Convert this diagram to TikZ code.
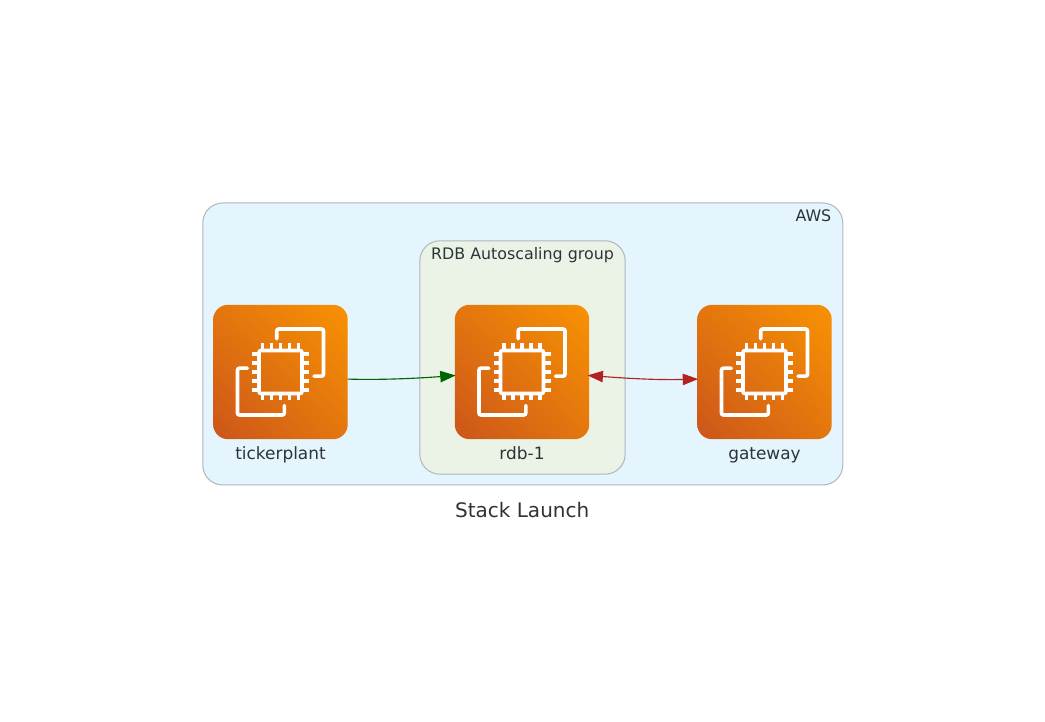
\documentclass[tikz,border=0pt]{standalone}
\usepackage{fontspec}
\setmainfont{DejaVu Sans}
\usetikzlibrary{arrows.meta, positioning, shadings}
\definecolor{awsfill}{HTML}{E5F5FD}
\definecolor{groupfill}{HTML}{EBF3E7}
\definecolor{clusterline}{HTML}{AEB6BE}
\definecolor{labeltext}{HTML}{2D3436}
\definecolor{ec2dark}{HTML}{CB551A}
\definecolor{ec2mid}{HTML}{E4760E}
\definecolor{ec2light}{HTML}{F89202}
\definecolor{firebrick}{HTML}{B22222}
\definecolor{darkgreen}{HTML}{006400}
\tikzset{
	cluster/.style = {rectangle, rounded corners=15pt, draw=clusterline, line width=0.75pt, inner sep=0pt},
	ec2box/.style = {rectangle, rounded corners=11pt, minimum width=100.8pt, minimum height=100.8pt, inner sep=0pt, lower left=ec2dark, upper right=ec2light, upper left=ec2mid, lower right=ec2mid},
	iconlabel/.style = {text=labeltext, font=\fontsize{12.7}{15}\selectfont, text height=9.6pt, text depth=2.8pt},
	clusterlabel/.style = {text=labeltext, font=\fontsize{11.9}{14}\selectfont},
	link/.style = {line width=0.85pt, shorten >=-0.8pt, -{Triangle[length=11.5pt,width=8.5pt]}},
	duallink/.style = {line width=0.85pt, shorten >=-0.8pt, shorten <=-1.4pt, {Triangle[length=11.5pt,width=8.5pt]}-{Triangle[length=11.5pt,width=8.5pt]}},
	chipicon/.pic = {
		\draw [white, line width=2.7pt, line cap=round, rounded corners=1.5pt]
			(-21.5,-21.5) rectangle (21.5,21.5)
			(-3.8,33.2) -- (-3.8,43) -- (43,43) -- (43,-4.2) -- (33.5,-4.2)
			(-33.2,3.8) -- (-43,3.8) -- (-43,-43) -- (3.8,-43) -- (3.8,-33.5);
		\foreach \p in {-18,-9,0,9,18} {
			\draw [white, line width=2.7pt] (\p,21.5) -- (\p,28.5);
			\draw [white, line width=2.7pt] (\p,-21.5) -- (\p,-28.5);
			\draw [white, line width=2.7pt] (21.5,\p) -- (28.5,\p);
			\draw [white, line width=2.7pt] (-21.5,\p) -- (-28.5,\p);
		}
	}
}
\begin{document}
\begin{tikzpicture}[x=0.75pt, y=0.75pt]
	\useasboundingbox (0,0) rectangle (1045,721);
	\node (aws) [cluster, fill=awsfill, minimum width=480pt, minimum height=211.5pt] at (522.75,377) {};
	\node (group) [cluster, fill=groupfill, minimum width=154pt, minimum height=175pt] at (522.5,363.5) {};

	\node (tickerplant) [ec2box] at (280.5,349) {};
	\node (rdb) [ec2box] at (522,349) {};
	\node (gateway) [ec2box] at (764.5,349) {};
	\pic at (tickerplant) {chipicon};
	\pic at (rdb) {chipicon};
	\pic at (gateway) {chipicon};

	\node (tickerlabel) [iconlabel, below=1.8pt of tickerplant] {tickerplant};
	\node (rdblabel) [iconlabel, below=1.8pt of rdb] {rdb-1};
	\node (gatewaylabel) [iconlabel, below=1.8pt of gateway] {gateway};
	\node (awslabel) [clusterlabel, anchor=north east] at (836,516) {AWS};
	\node (grouplabel) [clusterlabel, anchor=north] at (522.5,478) {RDB Autoscaling group};
	\node (title) [text=labeltext, font=\fontsize{15}{18}\selectfont] at (522.2,211) {Stack Launch};

	\draw [link, darkgreen] (tickerplant.-6.8) .. controls +(30,-1) and +(-40,-3) .. (rdb.183.4);
	\draw [duallink, firebrick] (rdb.-3.4) .. controls +(40,-3) and +(-40,-1) .. (gateway.186.8);
\end{tikzpicture}
\end{document}
